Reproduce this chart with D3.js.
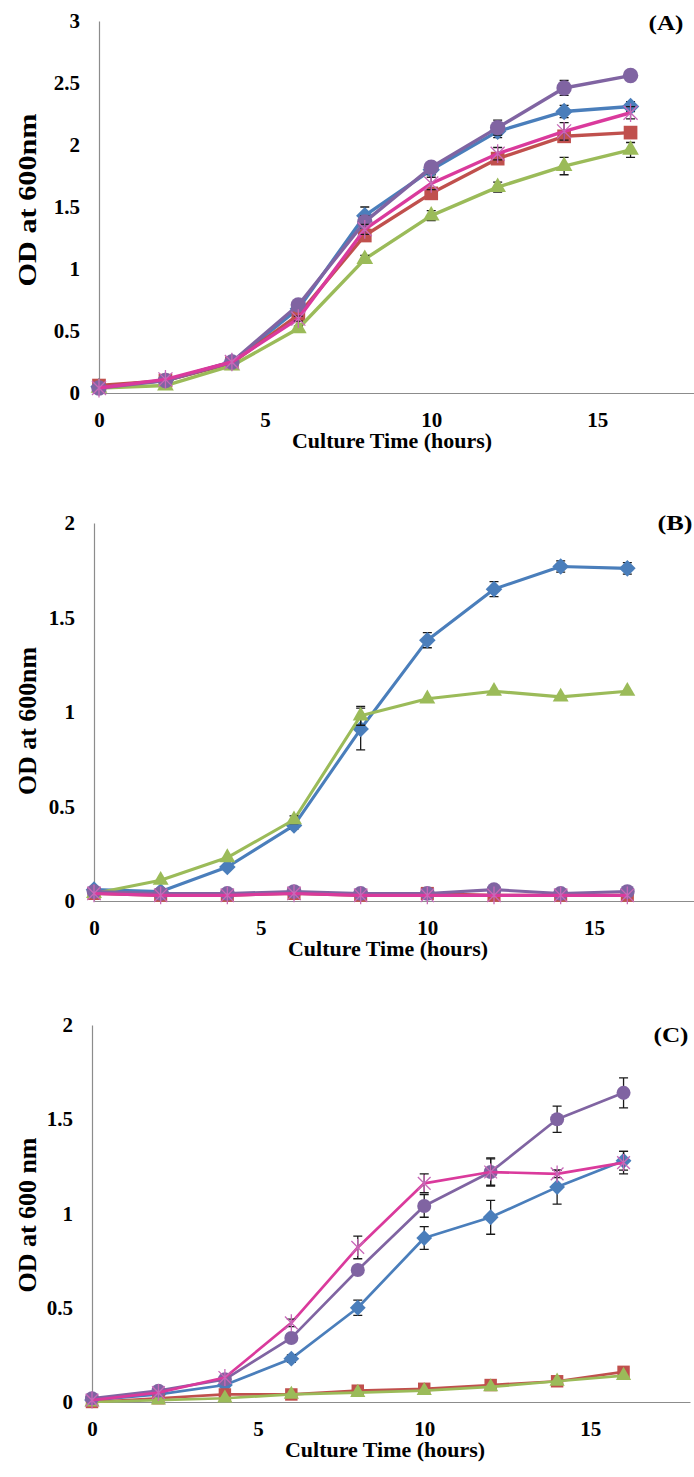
<!DOCTYPE html>
<html>
<head>
<meta charset="utf-8">
<script src="https://cdn.jsdelivr.net/npm/d3@7"></script>
<style>
  body { margin: 0; background: #fff; }
  text { font-family: "Liberation Serif", "Times New Roman", serif; font-weight: bold; fill: #000; }
</style>
</head>
<body>
<div id="chart"></div>
<script>

// sampling times (hours)

var times = [0, 2, 4, 6, 8, 10, 12, 14, 16];

var xTicks = [0, 5, 10, 15];
var yTicksA = [0, 0.5, 1, 1.5, 2, 2.5, 3];
var yTicksBC = [0, 0.5, 1, 1.5, 2];

// panel (A) values and error bars

var blueA = [0.05, 0.10, 0.25, 0.68, 1.43, 1.80, 2.11, 2.27, 2.31];
var redA = [0.06, 0.10, 0.24, 0.63, 1.27, 1.61, 1.89, 2.07, 2.10];
var greenA = [0.04, 0.06, 0.22, 0.52, 1.08, 1.43, 1.66, 1.83, 1.96];
var purpleA = [0.04, 0.10, 0.25, 0.71, 1.38, 1.82, 2.14, 2.46, 2.56];
var magentaA = [0.04, 0.11, 0.25, 0.60, 1.32, 1.69, 1.93, 2.11, 2.26];

var blueErrA = [0, 0, 0.01, 0.02, 0.07, 0.04, 0.05, 0.05, 0.04];
var redErrA = [0, 0, 0.01, 0.02, 0.03, 0.03, 0.03, 0.04, 0.03];
var greenErrA = [0, 0, 0.01, 0.02, 0.03, 0.04, 0.04, 0.07, 0.06];
var purpleErrA = [0, 0, 0.01, 0.02, 0.05, 0.03, 0.06, 0.06, 0.02];
var magentaErrA = [0, 0, 0.01, 0.02, 0.04, 0.05, 0.05, 0.07, 0.05];

// panel (B) values and error bars

var blueB = [0.06, 0.05, 0.18, 0.40, 0.91, 1.38, 1.65, 1.77, 1.76];
var redB = [0.04, 0.03, 0.03, 0.04, 0.03, 0.04, 0.03, 0.03, 0.03];
var greenB = [0.04, 0.11, 0.23, 0.43, 0.98, 1.07, 1.11, 1.08, 1.11];
var purpleB = [0.05, 0.04, 0.04, 0.05, 0.04, 0.04, 0.06, 0.04, 0.05];
var magentaB = [0.04, 0.03, 0.03, 0.04, 0.03, 0.03, 0.03, 0.03, 0.03];

var blueErrB = [0, 0, 0.01, 0.02, 0.11, 0.04, 0.04, 0.03, 0.03];
var redErrB = [0, 0, 0, 0, 0, 0, 0, 0, 0];
var greenErrB = [0, 0, 0, 0.02, 0.05, 0, 0, 0, 0];
var purpleErrB = [0, 0, 0, 0, 0, 0, 0, 0, 0];
var magentaErrB = [0, 0, 0, 0, 0, 0, 0, 0, 0];

// panel (C) values and error bars

var blueC = [0.01, 0.04, 0.09, 0.23, 0.50, 0.87, 0.98, 1.14, 1.28];
var redC = [0.00, 0.02, 0.04, 0.04, 0.06, 0.07, 0.09, 0.11, 0.16];
var greenC = [0.00, 0.01, 0.02, 0.04, 0.05, 0.06, 0.08, 0.11, 0.14];
var purpleC = [0.02, 0.06, 0.12, 0.34, 0.70, 1.04, 1.22, 1.50, 1.64];
var magentaC = [0.01, 0.05, 0.13, 0.42, 0.82, 1.16, 1.22, 1.21, 1.27];

var blueErrC = [0, 0, 0.01, 0.02, 0.04, 0.06, 0.09, 0.09, 0.05];
var redErrC = [0, 0, 0, 0, 0, 0, 0, 0, 0];
var greenErrC = [0, 0, 0, 0, 0, 0, 0, 0, 0];
var purpleErrC = [0, 0, 0.01, 0.02, 0.02, 0.06, 0.075, 0.07, 0.08];
var magentaErrC = [0, 0, 0.01, 0.02, 0.06, 0.05, 0.07, 0.02, 0.06];


// series styling, in drawing order

var seriesStyle = [
	{ color: "#4A7EBB", marker: "diamond" },
	{ color: "#C0504D", marker: "square" },
	{ color: "#9BBB59", marker: "triangle" },
	{ color: "#8064A2", marker: "circle" },
	{ color: "#DA3A9C", marker: "star" }
];


// layout of each panel on the page

var panels = [
	{
		label: "(A)", yTitle: "OD at 600nm", yTitleLen: 173,
		left: 99, right: 697, top: 21, bottom: 393, yMax: 3, yTicks: yTicksA,
		labelX: 666, labelY: 30, titleY: 200,
		values: [blueA, redA, greenA, purpleA, magentaA],
		errors: [blueErrA, redErrA, greenErrA, purpleErrA, magentaErrA],
		lineWidth: 3.4, markerScale: 1.1
	},
	{
		label: "(B)", yTitle: "OD at 600nm", yTitleLen: 148,
		left: 94, right: 694, top: 523, bottom: 901, yMax: 2, yTicks: yTicksBC,
		labelX: 675, labelY: 530, titleY: 721,
		values: [blueB, redB, greenB, purpleB, magentaB],
		errors: [blueErrB, redErrB, greenErrB, purpleErrB, magentaErrB],
		lineWidth: 3.1, markerScale: 1.05
	},
	{
		label: "(C)", yTitle: "OD at 600 nm", yTitleLen: 155,
		left: 92, right: 690, top: 1025, bottom: 1402, yMax: 2, yTicks: yTicksBC,
		labelX: 671, labelY: 1042, titleY: 1215,
		values: [blueC, redC, greenC, purpleC, magentaC],
		errors: [blueErrC, redErrC, greenErrC, purpleErrC, magentaErrC],
		lineWidth: 2.7, markerScale: 1
	}
];


var svgWidth = 694;
var svgHeight = 1477;

var svg = d3.select("#chart")
	.append("svg")
	.attr("width", svgWidth)
	.attr("height", svgHeight);


// marker path for one point

function markerPath(type, s) {
	switch (type) {
		case "diamond":
			return d3.symbol().type(d3.symbolSquare).size(125 * s * s)();
		case "square":
			return d3.symbol().type(d3.symbolSquare).size(155 * s * s)();
		case "triangle":
			return d3.symbol().type(d3.symbolTriangle).size(100 * s * s)();
		case "circle":
			return d3.symbol().type(d3.symbolCircle).size(155 * s * s)();
		case "star":
			var r = 8.5 * s;
			var d = r * 0.75;
			return `M${-d},${-d}L${d},${d}M${-d},${d}L${d},${-d}M0,${-r}L0,${r}`;
	}
}


// draw one panel

function drawPanel(p) {

	var g = svg.append("g");

	var xScale = d3.scaleLinear()
		.domain([0, 18])
		.range([p.left, p.right]);

	var yScale = d3.scaleLinear()
		.domain([0, p.yMax])
		.range([p.bottom, p.top]);

	// axes

	var bottomAxis = d3.axisBottom(xScale)
		.tickValues(xTicks)
		.tickSizeInner(0)
		.tickSizeOuter(0)
		.tickPadding(19)
		.tickFormat(d3.format("d"));

	var leftAxis = d3.axisLeft(yScale)
		.tickValues(p.yTicks)
		.tickSizeInner(0)
		.tickSizeOuter(0)
		.tickPadding(19)
		.tickFormat(d => d3.format("")(d));

	var xAxis = g.append("g")
		.attr("transform", `translate(0, ${p.bottom})`)
		.call(bottomAxis);

	var yAxis = g.append("g")
		.attr("transform", `translate(${p.left}, 0)`)
		.call(leftAxis);

	[xAxis, yAxis].forEach(function(ax) {
		ax.select(".domain").attr("stroke", "#8c8c8c").attr("stroke-width", 1.2);
		ax.selectAll("text")
			.attr("font-family", null)
			.style("font-size", "21px")
			.attr("fill", "#000");
	});

	// axis titles

	g.append("text")
		.attr("x", (p.left + xScale(18)) / 2 - 6)
		.attr("y", p.bottom + 55)
		.attr("text-anchor", "middle")
		.attr("textLength", 200)
		.attr("lengthAdjust", "spacingAndGlyphs")
		.style("font-size", "21px")
		.text("Culture Time (hours)");

	g.append("text")
		.attr("transform", `translate(36, ${p.titleY}) rotate(-90)`)
		.attr("text-anchor", "middle")
		.attr("textLength", p.yTitleLen)
		.attr("lengthAdjust", "spacingAndGlyphs")
		.style("font-size", "25px")
		.text(p.yTitle);

	// panel letter

	g.append("text")
		.attr("x", p.labelX)
		.attr("y", p.labelY)
		.attr("text-anchor", "middle")
		.attr("textLength", 35)
		.attr("lengthAdjust", "spacingAndGlyphs")
		.style("font-size", "22px")
		.text(p.label);

	// series: line, error bars, markers

	var line = d3.line()
		.x(d => xScale(d.t))
		.y(d => yScale(d.v));

	p.values.forEach(function(vals, i) {

		var style = seriesStyle[i];
		var pts = times.map((t, j) => ({ t: t, v: vals[j], e: p.errors[i][j] }));
		var sg = g.append("g");

		sg.append("path")
			.datum(pts)
			.attr("fill", "none")
			.attr("stroke", style.color)
			.attr("stroke-width", p.lineWidth)
			.attr("stroke-linejoin", "round")
			.attr("d", line);

		sg.selectAll(".err")
			.data(pts.filter(d => d.e > 0.015))
			.enter()
			.append("path")
			.attr("fill", "none")
			.attr("stroke", "#1a1a1a")
			.attr("stroke-width", 1.3)
			.attr("d", function(d) {
				var x = xScale(d.t);
				var y0 = yScale(d.v - d.e);
				var y1 = yScale(d.v + d.e);
				return `M${x},${y0}V${y1}M${x - 4.5},${y0}H${x + 4.5}M${x - 4.5},${y1}H${x + 4.5}`;
			});

		sg.selectAll(".marker")
			.data(pts)
			.enter()
			.append("path")
			.attr("transform", function(d) {
				var rot = style.marker === "diamond" ? " rotate(45)" : "";
				return `translate(${xScale(d.t)}, ${yScale(d.v)})${rot}`;
			})
			.attr("d", markerPath(style.marker, p.markerScale))
			.attr("fill", style.marker === "star" ? "none" : style.color)
			.attr("stroke", style.marker === "star" ? "#C868B8" : "none")
			.attr("stroke-width", 1.3);
	});
}

panels.forEach(drawPanel);

</script>
</body>
</html>
